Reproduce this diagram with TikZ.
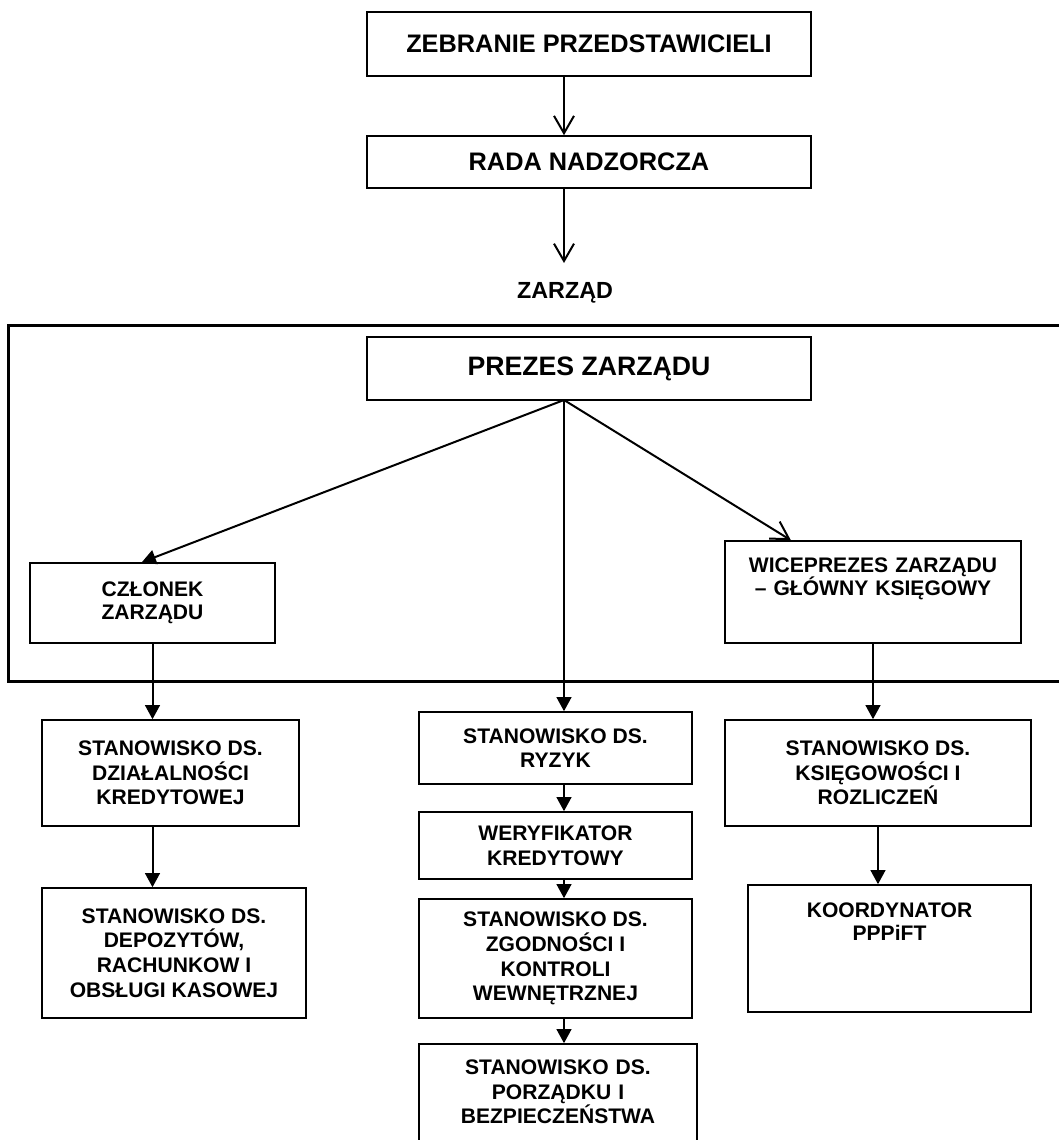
\documentclass[tikz,border=0pt]{standalone}
\usepackage{fontspec}
\setmainfont{Liberation Sans}
\usetikzlibrary{arrows.meta}
\begin{document}
\begin{tikzpicture}[x=0.75pt, y=-0.75pt, line join=miter,
  box/.style={draw, line width=1.2pt, align=center, inner sep=4pt,
    font=\fontsize{15.8pt}{18.5pt}\selectfont\bfseries},
  headbox/.style={box, font=\fontsize{19pt}{22pt}\selectfont\bfseries},
  link/.style={line width=1.5pt, -{Triangle[length=10.5pt,width=11pt]}},
  barb/.style={line width=1.5pt, -{Straight Barb[length=13pt,width=15pt]}}]
\useasboundingbox (0,0) rectangle (1059,1140);
\path
  (564,0) coordinate (axis)
  (564,400) coordinate (pz)
  (564,263) coordinate (zt)
  ;
\node[headbox, minimum width=333pt, minimum height=48pt] (zebranie) at (589,44) {ZEBRANIE PRZEDSTAWICIELI};
\node[headbox, minimum width=333pt, minimum height=39pt] (rada) at (589,162) {RADA NADZORCZA};
\node[font=\fontsize{17.5pt}{20pt}\selectfont\bfseries] (zarzad) at (565,293) {ZARZĄD};
\draw[line width=2.25pt] (8,325) rectangle (1075,681);
\node[headbox, minimum width=333pt, minimum height=47.25pt, font=\fontsize{20pt}{24pt}\selectfont\bfseries] (prezes) at (589,368.5) {PREZES ZARZĄDU};
\node[box, minimum width=183.75pt, minimum height=60pt, font=\fontsize{15.8pt}{17.5pt}\selectfont\bfseries] (czlonek) at (152.5,603) {CZŁONEK\\ZARZĄDU};
\node[box, minimum width=222pt, text width=214pt, text height=19.6pt, text depth=48.9pt, font=\fontsize{15.8pt}{17.5pt}\selectfont\bfseries] (wice) at (873,592) {WICEPREZES ZARZĄDU\\– GŁÓWNY KSIĘGOWY};
\node[box, minimum width=192.75pt, minimum height=79.5pt] (dzial) at (170.5,773) {STANOWISKO DS.\\DZIAŁALNOŚCI\\KREDYTOWEJ};
\node[box, minimum width=198pt, minimum height=97.5pt] (depoz) at (174,953) {STANOWISKO DS.\\DEPOZYTÓW,\\RACHUNKOW I\\OBSŁUGI KASOWEJ};
\node[box, minimum width=204.75pt, minimum height=54pt] (ryzyk) at (555.5,748) {STANOWISKO DS.\\RYZYK};
\node[box, minimum width=204.75pt, minimum height=50.25pt] (wery) at (555.5,845.5) {WERYFIKATOR\\KREDYTOWY};
\node[box, minimum width=204.75pt, minimum height=89.25pt] (zgod) at (555.5,958.5) {STANOWISKO DS.\\ZGODNOŚCI I\\KONTROLI\\WEWNĘTRZNEJ};
\node[box, minimum width=208.5pt, text width=200.5pt, text height=18.9pt, text depth=55.6pt] (porz) at (558,1099) {STANOWISKO DS.\\PORZĄDKU I\\BEZPIECZEŃSTWA};
\node[box, minimum width=229.5pt, minimum height=79.5pt] (ksieg) at (878,773) {STANOWISKO DS.\\KSIĘGOWOŚCI I\\ROZLICZEŃ};
\node[box, minimum width=212.25pt, text width=204.25pt, text height=20.4pt, text depth=66.85pt, font=\fontsize{15.8pt}{17.5pt}\selectfont\bfseries] (koord) at (889.5,948.5) {KOORDYNATOR\\PPPiFT};
\draw[barb] (zebranie.south -| axis) -- (rada.north -| axis);
\draw[barb] (rada.south -| axis) -- (zt);
\draw[link] (pz) -- ([xshift=-8pt]czlonek.north);
\draw[barb] (pz) -- ([xshift=50pt]wice.north west);
\draw[link] (pz) -- (pz |- ryzyk.north);
\foreach \a/\b in {ryzyk/wery, wery/zgod, zgod/porz}{
  \draw[link] (\a.south -| axis) -- (\b.north -| axis);
}
\draw[link] (czlonek.south) -- (czlonek.south |- dzial.north);
\draw[link] (dzial.south -| czlonek.south) -- (czlonek.south |- depoz.north);
\draw[link] (wice.south) -- (wice.south |- ksieg.north);
\draw[link] (ksieg.south) -- (ksieg.south |- koord.north);
\end{tikzpicture}
\end{document}
